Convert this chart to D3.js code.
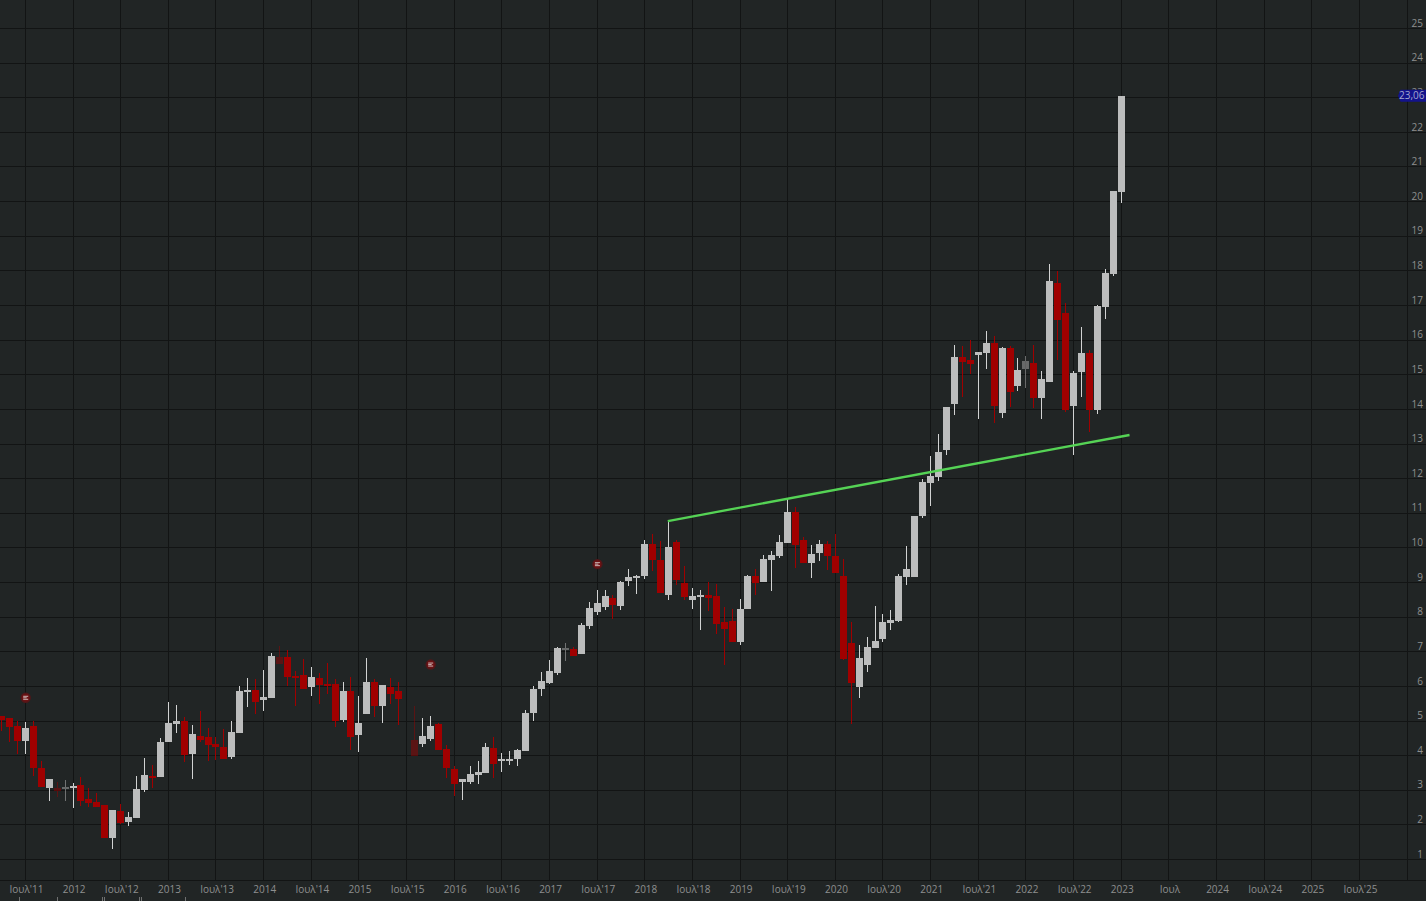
<!DOCTYPE html>
<html><head><meta charset="utf-8">
<script src="https://cdn.jsdelivr.net/npm/d3@7/dist/d3.min.js"></script>
<style>html,body{margin:0;padding:0;background:#212525;overflow:hidden}svg{display:block}
text{font-family:"Open Sans","Noto Sans",sans-serif;font-size:10px;fill:#8e8f8f}</style>
</head><body><svg id="c" width="1426" height="901"></svg>
<script>
// month index 0 = Jul 2011; first candle is index -3
const firstMonth = -3;
const open  = [5.14,5.08,4.86,4.43,4.86,3.64,3.06,3.06,3.06,3.06,3.14,2.75,2.65,2.57,1.62,2.39,2.08,2.20,3.01,3.41,3.38,4.39,4.91,5.00,4.05,4.57,4.53,4.34,4.25,3.96,4.65,5.84,5.89,5.61,5.66,6.85,6.85,6.30,6.33,5.98,6.24,6.07,6.07,5.03,5.87,4.60,5.20,6.13,5.43,5.98,5.87,null,4.45,4.34,4.48,4.91,4.19,3.61,3.24,3.24,3.44,3.50,4.22,3.84,3.87,3.90,4.13,5.23,5.92,6.10,6.39,7.06,7.08,6.93,7.74,8.15,8.29,8.55,8.32,9.04,9.14,9.19,10.11,9.65,8.64,10.17,8.98,8.49,8.58,8.64,8.61,7.86,7.89,7.28,8.23,9.19,9.01,9.65,9.76,10.14,11.04,10.23,9.56,9.85,10.11,9.76,9.19,7.25,5.98,6.62,7.11,7.37,7.83,7.89,9.16,9.16,10.92,11.87,12.05,12.83,14.15,15.51,15.42,15.57,15.63,15.92,13.89,15.77,14.67,15.16,15.34,14.33,14.79,17.65,16.78,14.10,15.08,15.63,13.98,16.96,17.91,20.28];
const high  = [5.14,5.08,5.00,4.97,4.99,3.84,3.32,3.23,3.30,3.20,3.37,3.06,2.92,2.57,2.43,2.60,2.37,3.41,3.93,3.72,4.51,5.55,5.46,5.12,4.88,5.29,4.80,4.54,4.77,5.00,6.01,6.24,6.21,6.47,6.96,7.17,7.05,6.44,6.79,6.56,6.39,6.67,6.21,6.13,6.27,5.72,6.82,6.21,6.04,6.24,6.13,null,5.43,5.09,5.14,4.94,4.31,3.70,3.32,3.70,3.84,4.36,4.54,4.08,4.13,4.19,5.32,6.01,6.41,6.76,7.14,7.25,7.14,7.83,8.44,8.78,8.78,8.64,9.04,9.39,9.22,10.23,10.40,10.20,10.78,10.23,9.48,8.84,8.78,9.01,8.96,8.29,8.23,8.52,9.22,9.39,9.79,9.91,10.37,11.44,11.18,10.31,10.08,10.23,10.20,10.40,9.68,7.86,7.19,7.43,8.32,8.09,8.21,9.25,10.05,10.92,11.99,12.65,13.29,14.07,15.86,15.83,16.00,15.66,16.26,16.12,15.80,15.83,15.48,15.54,15.86,15.11,18.20,18.00,17.07,15.11,16.38,15.71,17.01,18.05,20.30,23.06];
const low   = [4.72,4.40,4.05,4.05,3.42,3.09,2.69,2.81,2.69,2.49,2.55,2.52,2.52,1.62,1.30,2.03,1.97,2.20,2.95,3.06,3.38,4.39,4.65,3.82,3.32,4.39,3.84,3.87,3.90,3.90,4.65,5.40,5.20,5.29,5.66,6.65,6.01,5.43,5.92,5.72,5.49,5.78,4.83,4.97,4.16,4.10,5.20,5.12,4.94,5.49,4.88,null,3.99,4.25,4.42,4.16,3.35,2.83,2.72,3.18,3.18,3.50,3.35,3.53,3.73,3.70,4.13,5.00,5.72,6.07,6.33,6.73,6.88,6.93,7.66,8.06,8.21,7.95,8.21,8.90,8.67,9.10,9.33,8.70,8.49,8.93,8.49,8.23,7.63,8.18,7.51,6.62,7.28,7.19,8.23,8.64,9.01,8.75,9.71,10.14,9.42,9.56,9.13,9.62,9.36,9.27,6.76,4.91,5.66,6.41,7.11,7.28,7.63,7.86,8.93,9.16,10.86,11.21,11.93,12.68,13.84,14.36,15.02,13.72,15.16,13.61,13.75,14.07,14.53,14.62,14.04,13.72,14.79,15.42,13.92,12.68,14.36,13.35,13.87,16.61,17.85,19.97];
const close = [5.02,4.81,4.43,4.80,3.65,3.09,3.32,2.96,3.09,3.12,2.69,2.63,2.52,1.62,2.43,2.04,2.23,3.04,3.44,3.36,4.39,4.94,5.00,4.02,4.62,4.45,4.31,4.25,3.90,4.68,5.87,5.89,5.55,5.69,6.88,6.65,6.27,6.24,5.92,6.27,6.04,6.02,5.00,5.87,4.54,4.94,6.13,5.43,6.04,5.78,5.64,null,3.99,4.57,4.86,4.16,3.64,3.18,3.32,3.47,3.53,4.25,3.76,3.90,3.90,4.16,5.23,5.92,6.15,6.44,7.11,7.11,6.88,7.77,8.26,8.41,8.61,8.35,9.01,9.16,9.18,10.11,9.65,8.70,10.02,9.07,8.58,8.61,8.64,8.56,7.80,7.66,7.28,8.23,9.19,8.98,9.68,9.79,10.17,11.04,10.08,9.56,9.82,10.11,9.76,9.27,6.79,6.10,6.82,7.14,7.31,7.86,7.92,9.19,9.39,10.92,11.90,12.07,12.77,14.07,15.51,15.37,15.31,15.66,15.92,14.10,15.77,14.50,15.14,15.40,14.33,14.88,17.71,16.58,13.98,15.05,15.63,13.98,16.98,17.94,20.30,23.06];
const fadedMonths = [4,5,32,49,68,126];

const priceTicks = d3.range(1,26);
const tickMonths = d3.range(0,169,6);
const tickLabels = ["Ιουλ'11","2012","Ιουλ'12","2013","Ιουλ'13","2014","Ιουλ'14","2015","Ιουλ'15","2016","Ιουλ'16","2017","Ιουλ'17","2018","Ιουλ'18","2019","Ιουλ'19","2020","Ιουλ'20","2021","Ιουλ'21","2022","Ιουλ'22","2023","Ιουλ","2024","Ιουλ'24","2025","Ιουλ'25"];
const eventMonths = [0,51,72];
const eventPrices = [5.67,6.63,9.53];
const trendMonths = [80.9,139.05];
const trendPrices = [10.775,13.26];
const lastPrice = 23.06, lastLabel = "23,06";
const stripTicks = [19,57,102,104,139,141,185];

const W=1426,H=901,axisBottomY=880,axisX=1407;
const x=d3.scaleLinear().domain([0,168]).range([25.4,1359.4]);
const y=d3.scaleLinear().domain([1,25]).range([859.5,28.5]);
const px=v=>Math.floor(x(v))+0.5, py=v=>Math.floor(y(v))+0.5;
const svg=d3.select("#c");
svg.append("rect").attr("width",W).attr("height",H).attr("fill","#212525");

// grid
const grid=svg.append("g").attr("stroke","#121414").attr("stroke-width",1).attr("shape-rendering","crispEdges");
grid.selectAll(".h").data(priceTicks).join("line").attr("x1",0).attr("x2",W).attr("y1",py).attr("y2",py);
grid.selectAll(".v").data(tickMonths).join("line").attr("x1",px).attr("x2",px).attr("y1",0).attr("y2",axisBottomY);
grid.append("line").attr("x1",0).attr("x2",W).attr("y1",880.5).attr("y2",880.5);
grid.append("line").attr("x1",axisX+.5).attr("x2",axisX+.5).attr("y1",0).attr("y2",axisBottomY);

// candles
const candles=close.map((c,k)=>({m:k+firstMonth,o:open[k],h:high[k],l:low[k],c})).filter(d=>d.c!==null);
const isUp=d=>d.c>=d.o;
const g=svg.append("g").attr("shape-rendering","crispEdges");
const cg=g.selectAll("g").data(candles).join("g")
  .attr("opacity",d=>fadedMonths.includes(d.m)?0.45:1);
cg.append("line").attr("x1",d=>px(d.m)).attr("x2",d=>px(d.m))
  .attr("y1",d=>y(d.h)).attr("y2",d=>y(d.l))
  .attr("stroke",d=>isUp(d)?"#d2d3d3":"#a00000");
cg.append("rect").attr("x",d=>px(d.m)-3.5).attr("width",7)
  .attr("y",d=>Math.round(y(Math.max(d.o,d.c))))
  .attr("height",d=>Math.max(2,Math.round(y(Math.min(d.o,d.c))-y(Math.max(d.o,d.c)))))
  .attr("fill",d=>isUp(d)?"#bcbdbd":"#a00000");

// event markers
const ev=svg.append("g").selectAll("g").data(eventMonths).join("g")
  .attr("transform",(m,i)=>`translate(${x(m)+.3},${y(eventPrices[i])})`);
ev.append("circle").attr("r",5.2).attr("fill","#511719");
ev.append("circle").attr("r",3.8).attr("fill","#6e1214");
ev.append("rect").attr("x",-2.5).attr("y",-2).attr("width",5).attr("height",1).attr("fill","#c9b4b4");
ev.append("rect").attr("x",-2.5).attr("y",-.5).attr("width",3.5).attr("height",1).attr("fill","#c9b4b4");
ev.append("rect").attr("x",-2.5).attr("y",1).attr("width",5).attr("height",1).attr("fill","#c9b4b4");

// trend line
svg.append("path").datum(trendMonths)
  .attr("d",d3.line().x(m=>x(m)).y((m,i)=>y(trendPrices[i])))
  .attr("fill","none").attr("stroke","#55d355").attr("stroke-width",2.3);

// axes
const yAxis=d3.axisLeft(y).tickValues(priceTicks).tickSize(0).tickPadding(0).tickFormat(d3.format("d"));
const ya=svg.append("g").attr("transform","translate(1423,-5.5)").call(yAxis);
ya.select(".domain").remove();
const xAxis=d3.axisBottom(x).tickValues(tickMonths).tickSize(0).tickPadding(0).tickFormat((m,i)=>tickLabels[i]);
const xa=svg.append("g").attr("transform","translate(0.6,886)").call(xAxis);
xa.select(".domain").remove();
svg.selectAll(".tick text").style("font-family",'"Open Sans","Noto Sans",sans-serif').style("font-size","10px").attr("fill","#8e8f8f");

// last price tag
const tag=svg.append("g").attr("transform",`translate(0,${y(lastPrice)})`);
tag.append("path").attr("d",d3.line()([[1398,0],[1400.5,-6],[1426,-6],[1426,6],[1400.5,6]])+"Z").attr("fill","#13138c");
tag.append("text").attr("x",1424.5).attr("y",3.5).attr("text-anchor","end").style("fill","#a4a6cf").text(lastLabel);

// clipped strip at the very bottom
svg.append("g").attr("stroke","#6f7070").attr("shape-rendering","crispEdges").selectAll("line").data(stripTicks).join("line")
  .attr("x1",d=>d+.5).attr("x2",d=>d+.5).attr("y1",897).attr("y2",901);
</script></body></html>
